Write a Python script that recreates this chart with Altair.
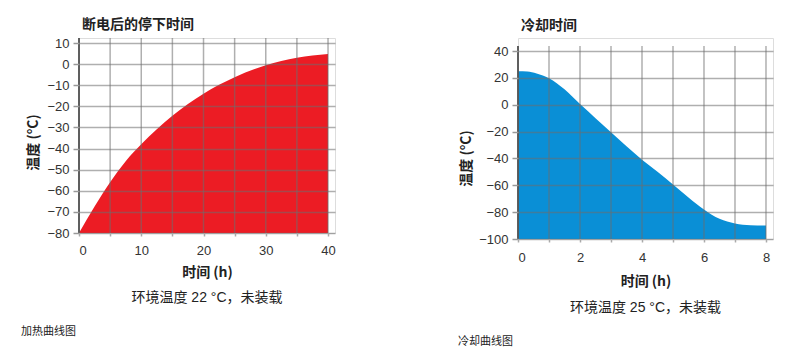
import altair as alt
import pandas as pd

# Heating curve (left): temperature after power loss
heat_time = [0, 2.5, 5, 7.5, 10, 15, 20, 25, 30, 35, 40]
heat_temp = [-80, -67.5, -56, -46, -38, -24.5, -14, -6.2, -0.5, 3, 4.8]

# Cooling curve (right)
cool_time = [0, 0.3, 0.6, 1, 1.5, 2, 2.5, 3, 3.5, 4, 4.5, 5, 5.5, 6, 6.5, 7, 7.5, 8]
cool_temp = [25, 24.8, 23.3, 19.8, 11.5, 0.5, -10, -20.5, -31, -41, -50, -59.5, -69, -78, -85, -88.5, -89.8, -90]

heat_xticks = [0, 5, 10, 15, 20, 25, 30, 35, 40]
heat_yticks = [10, 0, -10, -20, -30, -40, -50, -60, -70, -80]
cool_xticks = [0, 1, 2, 3, 4, 5, 6, 7, 8]
cool_yticks = [40, 20, 0, -20, -40, -60, -80, -100]

titles = ["断电后的停下时间", "冷却时间"]
notes = ["环境温度 22 °C，未装载", "环境温度 25 °C，未装载"]
captions = ["加热曲线图", "冷却曲线图"]

FONT = "'Liberation Sans', 'Noto Sans CJK SC', sans-serif"
CJK = "'Noto Sans CJK SC', 'Liberation Sans', sans-serif"
GRID = "#6e6e6e"
GRID_OP = 0.55


def panel(times, temps, xticks, yticks, xdom, ydom, grid_top, w, h, color, title, note,
          caption, label_step, xlabpad, xtitlepad, ytitlepad, ytitle_y,
          note_dy, cap_dx, cap_dy):
    df = pd.DataFrame({"t": times, "v": temps})
    xs = alt.Scale(domain=xdom, nice=False, zero=False)
    ys = alt.Scale(domain=ydom, nice=False, zero=False)
    xaxis = alt.Axis(
        values=xticks,
        labelExpr=f"datum.value % {label_step} == 0 ? datum.label : ''",
        grid=False, domain=False, ticks=True, tickSize=3, tickColor="#aaaaaa",
        tickWidth=1.5, labelOverlap=False,
        labelFont=FONT, labelFontSize=13, labelColor="#333333", labelPadding=xlabpad,
        title="时间 (h)", titleFont=CJK, titleFontSize=14, titleFontWeight="bold",
        titleColor="#222222", titlePadding=xtitlepad, zindex=1)
    yaxis = alt.Axis(
        values=yticks, format="d", labelOverlap=False,
        grid=True, gridColor=GRID, gridOpacity=GRID_OP, gridWidth=1.5,
        domain=False,
        ticks=True, tickSize=6, tickColor="#999999", tickWidth=1.5,
        labelFont=FONT, labelFontSize=13, labelColor="#333333", labelPadding=4,
        title="温度 (°C)", titleFont=CJK, titleFontSize=14, titleFontWeight="bold",
        titleColor="#222222", titlePadding=ytitlepad, titleY=ytitle_y, zindex=1)

    area = alt.Chart(df).mark_area(color=color, interpolate="monotone", opacity=1).encode(
        x=alt.X("t:Q", scale=xs, axis=xaxis),
        y=alt.Y("v:Q", scale=ys, axis=yaxis),
        y2=alt.datum(ydom[0]),
    )
    vgrid = alt.Chart(pd.DataFrame({"x": xticks})).mark_rule(
        color=GRID, opacity=GRID_OP, strokeWidth=1.5
    ).encode(
        x=alt.X("x:Q", scale=xs, axis=xaxis),
        y=alt.YDatum(ydom[0], type="quantitative", scale=ys, axis=yaxis),
        y2=alt.datum(grid_top),
    )
    yaxis_line = alt.Chart(pd.DataFrame({"x": [xdom[0]]})).mark_rule(
        color="#555555", strokeWidth=1.8
    ).encode(
        x=alt.X("x:Q", scale=xs, axis=xaxis),
        y=alt.YDatum(ydom[0], type="quantitative", scale=ys, axis=yaxis),
        y2=alt.datum(grid_top),
    )
    note_layer = alt.Chart(pd.DataFrame({"s": [note]})).mark_text(
        font=FONT, fontSize=14, color="#222222", align="center", baseline="middle"
    ).encode(text="s:N", x=alt.value(w / 2), y=alt.value(h + note_dy))
    cap_layer = alt.Chart(pd.DataFrame({"s": [caption]})).mark_text(
        font=CJK, fontSize=11, color="#222222", align="left", baseline="middle"
    ).encode(text="s:N", x=alt.value(cap_dx), y=alt.value(h + cap_dy))
    return alt.layer(area, vgrid, yaxis_line, note_layer, cap_layer).properties(
        width=w, height=h,
        title=alt.Title(title, anchor="start", frame="group", offset=5,
                        font=CJK, fontSize=14, fontWeight="bold", color="#222222", dx=3),
    )


left = panel(heat_time, heat_temp, heat_xticks, heat_yticks, [0, 41.12], [-80, 12.37], 12.37,
             256, 195, "#ec1c24", titles[0], notes[0], captions[0],
             label_step=10, xlabpad=8, xtitlepad=8, ytitlepad=6,
             ytitle_y=104, note_dy=65, cap_dx=-58, cap_dy=99)
right = panel(cool_time, cool_temp, cool_xticks, cool_yticks, [0, 8.226], [-100, 49.7], 43.7,
              255, 201, "#0a8fd6", titles[1], notes[1], captions[1],
              label_step=2, xlabpad=9, xtitlepad=10, ytitlepad=5,
              ytitle_y=120, note_dy=69, cap_dx=-60, cap_dy=103)

chart = alt.hconcat(left, right, spacing=121).properties(
    padding={"left": 12, "top": 9, "right": 5, "bottom": 5}
).configure_view(stroke=None).configure(background="white")

chart.save("out.html", embed_options={"renderer": "svg", "actions": False})
